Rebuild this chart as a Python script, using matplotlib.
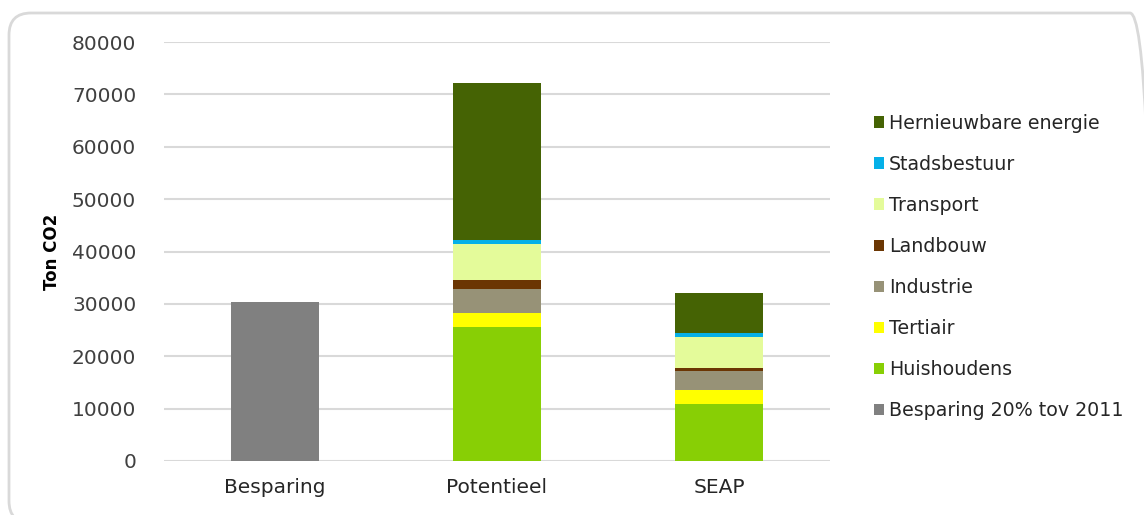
import matplotlib
matplotlib.use("Agg")
import matplotlib.pyplot as plt
from matplotlib.patches import FancyBboxPatch
from matplotlib.transforms import IdentityTransform
import numpy as np

categories = ["Besparing", "Potentieel", "SEAP"]
besparing = [30400, 0, 0]
huishoudens = [0, 25500, 10800]
tertiair = [0, 2700, 2700]
industrie = [0, 4650, 3700]
landbouw = [0, 1650, 500]
transport = [0, 6850, 6000]
stadsbestuur = [0, 800, 770]
hernieuwbaar = [0, 30100, 7600]

series = [
    ("Besparing 20% tov 2011", besparing, "#808080"),
    ("Huishoudens", huishoudens, "#88cf05"),
    ("Tertiair", tertiair, "#ffff00"),
    ("Industrie", industrie, "#979277"),
    ("Landbouw", landbouw, "#6b3603"),
    ("Transport", transport, "#e4fb9a"),
    ("Stadsbestuur", stadsbestuur, "#05b0e8"),
    ("Hernieuwbare energie", hernieuwbaar, "#456304"),
]

plt.rcParams['font.family'] = ['DejaVu Sans']

fig = plt.figure(figsize=(11.44, 5.15), dpi=100)
W, H = 1144, 515
ax = fig.add_axes([164 / W, 1 - 461 / H, (830 - 164) / W, (461 - 42) / H])

x = np.arange(len(categories))
bottom = np.zeros(len(categories))
handles = []
for label, vals, color in series:
    vals = np.array(vals, dtype=float)
    b = ax.bar(x, vals, 0.40, bottom=bottom, color=color, label=label, zorder=3)
    handles.append(b)
    bottom += vals

ax.set_xlim(-0.5, 2.5)
ax.set_ylim(0, 80000)
ax.set_yticks(np.arange(0, 80001, 10000))
ax.set_xticks(x)
ax.set_xticklabels(categories, fontsize=14.5, color="#262626")
ax.tick_params(axis='y', labelsize=14.5, colors="#404040", length=0, pad=20)
ax.tick_params(axis='x', length=0, pad=12)
ax.grid(axis='y', color="#d9d9d9", linewidth=1.5, zorder=0)
for s in ax.spines.values():
    s.set_visible(False)
ax.set_ylabel("Ton CO2", fontsize=12, fontweight='bold', color="#000000", labelpad=8)

leg = ax.legend(handles[::-1], [s[0] for s in series][::-1],
                loc='center left', bbox_to_anchor=(866 / W, 1 - 267 / H),
                bbox_transform=fig.transFigure,
                frameon=False, fontsize=13.7, handlelength=0.55, handleheight=0.55,
                handletextpad=0.25, labelspacing=1.16, borderaxespad=0)
for t in leg.get_texts():
    t.set_color("#262626")

# rounded outer frame, in pixel coordinates (origin bottom-left)
frame = FancyBboxPatch((9, -8), 1152 - 9, (H - 13) + 8,
                       boxstyle="round,pad=0,rounding_size=22",
                       transform=IdentityTransform(), fill=False,
                       edgecolor="#d9d9d9", linewidth=2, zorder=-1)
fig.patches.append(frame)

fig.savefig("out.png", dpi=100)
